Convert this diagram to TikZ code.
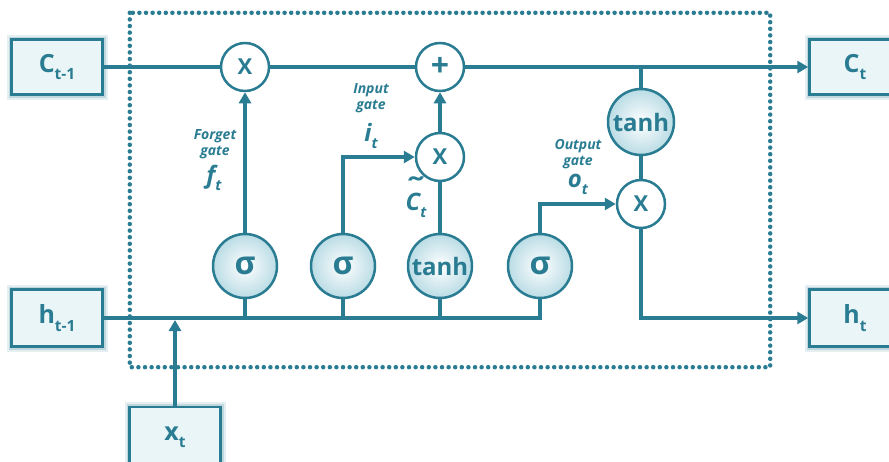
\documentclass[tikz,border=0pt]{standalone}
\usepackage{fontspec}
\usepackage{graphicx}
\setmainfont{Open Sans}
\usetikzlibrary{arrows.meta,calc}
\definecolor{teal1}{RGB}{42,124,146}
\definecolor{boxfill}{RGB}{234,245,248}
\definecolor{circout}{RGB}{186,220,229}
\newcommand\lsub[1]{\raisebox{-0.3em}{\scalebox{0.62}{#1}}}
\newcommand\tildeC{{\ooalign{C\cr\hidewidth\raisebox{0.5em}{\scalebox{1.6}[1.2]{\char"02DC}}\hidewidth\cr}}}
\begin{document}
\begin{tikzpicture}[x=1pt,y=-1pt,
  conn/.style={draw=teal1,line width=4pt},
  arr/.style={conn,-{Triangle[length=11pt,width=12pt]}},
  cellbox/.style={minimum width=640pt,minimum height=354pt,inner sep=0pt},
  dots/.style={draw=teal1,line width=4.5pt,line cap=round,dash pattern=on 0pt off 6.6pt},
  iobox/.style={draw=teal1,line width=2.5pt,fill=boxfill,
    preaction={draw=teal1!12,line width=10pt},
    preaction={draw=teal1!30,line width=6pt},
    minimum width=91pt,minimum height=55pt,inner sep=0pt,
    font=\bfseries\fontsize{25}{30}\selectfont,text=teal1},
  opcirc/.style={circle,draw=teal1,line width=2.5pt,fill=white,minimum size=48pt,inner sep=0pt,font=\bfseries\fontsize{22}{24}\selectfont,text=teal1},
  actcirc/.style={circle,draw=teal1,line width=2.5pt,inner color=white,outer color=circout,minimum size=64pt,inner sep=0pt,font=\bfseries\fontsize{24}{28}\selectfont,text=teal1},
  gatelbl/.style={align=center,text=teal1,inner sep=0pt,font=\bfseries\itshape\fontsize{14}{16}\selectfont},
  gatevar/.style={text=teal1,inner sep=0pt,font=\bfseries\itshape\fontsize{24}{28}\selectfont}
]
\useasboundingbox (0,0) rectangle (889,461);
\node[cellbox] (cell) at (450,190) {};
\draw[dots] (cell.north west) rectangle (cell.south east);
% boxes
\node[iobox] (cprev) at (57,67) {C\lsub{t-1}};
\node[iobox] (cnext) at (855,67) {C\lsub{t}};
\node[iobox,minimum height=57pt] (hprev) at (57,318) {h\lsub{t-1}};
\node[iobox,minimum height=57pt] (hnext) at (855,318) {h\lsub{t}};
\node[iobox,minimum height=60pt] (xt) at (175,437) {x\lsub{t}};
% operators
\node[opcirc] (mul1) at (245,67) {X};
\node[opcirc,font=\bfseries\fontsize{32}{32}\selectfont] (add) at (440,67) {+};
\node[opcirc] (mul2) at (440,157) {X};
\node[opcirc] (mul3) at (641,204) {X};
\node[actcirc,minimum size=66pt] (tanhc) at (641,122) {tanh};
% activations
\node[actcirc] (s1) at (245,266) {\fontsize{32}{32}\selectfont σ};
\node[actcirc] (s2) at (343,266) {\fontsize{32}{32}\selectfont σ};
\node[actcirc] (tanhi) at (440,266) {tanh};
\node[actcirc] (s4) at (540,266) {\fontsize{32}{32}\selectfont σ};
% connectors
\draw[conn] (cprev) -- (mul1);
\draw[conn] (mul1) -- (add);
\draw[arr] (add) -- (cnext);
\coordinate (tap) at (tanhc.north |- cprev.east);
\draw[conn] (tap) -- (tanhc);
\draw[conn] (tanhc) -- (mul3);
\draw[arr] (mul3.south) |- (hnext.west);
\draw[conn] (hprev.east) -| (s4.south);
\draw[conn] (s1.south) -- (s1.south |- hprev.east);
\draw[conn] (s2.south) -- (s2.south |- hprev.east);
\draw[conn] (tanhi.south) -- (tanhi.south |- hprev.east);
\draw[arr,shorten >=2pt] (xt.north) -- (xt.north |- hprev.east);
\draw[arr] (s1) -- (mul1);
\draw[arr] (s2.north) |- (mul2.west);
\draw[conn] (tanhi) -- (mul2);
\draw[arr] (mul2) -- (add);
\draw[arr] (s4.north) |- (mul3.west);
% labels
\node[gatelbl] (fgl) at (215,144) {Forget\\gate};
\node[gatevar] (ft) at (214,178) {f\lsub{t}};
\node[gatelbl] (igl) at (371,98) {Input\\gate};
\node[gatevar] (it) at (371,136) {i\lsub{t}};
\node[gatevar] (ct) at (416,205) {\tildeC\lsub{t}};
\node[gatelbl] (ogl) at (578,154) {Output\\gate};
\node[gatevar] (ot) at (578,184) {o\lsub{t}};
\end{tikzpicture}
\end{document}
